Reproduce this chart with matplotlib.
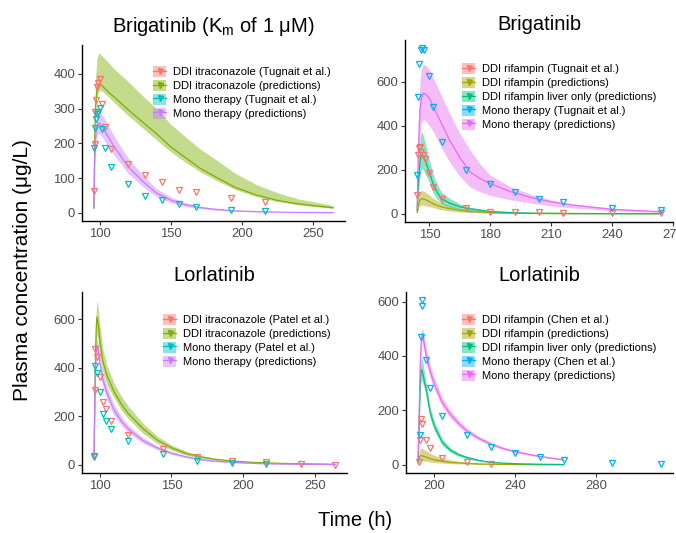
import matplotlib
matplotlib.use("Agg")
import matplotlib.pyplot as plt
from matplotlib.patches import Rectangle
from matplotlib.lines import Line2D
import numpy as np

plt.rcParams['font.family'] = ['Liberation Sans', 'DejaVu Sans']
plt.rcParams['mathtext.fontset'] = 'custom'
plt.rcParams['mathtext.rm'] = 'Liberation Sans'

# ---------------- colours (ggplot hue palettes) ----------------
C4 = ['#F8766D', '#7CAE00', '#00BFC4', '#C77CFF']
C5 = ['#F8766D', '#A3A500', '#00BF7D', '#00B0F6', '#E76BF3']

# ================= Panel 1: Brigatinib (Km 1 uM), itraconazole =================
p1_obs_ddi_t = [96, 96.5, 97, 97.5, 98, 99, 100, 102, 104, 108, 120, 132, 144, 156, 168, 192, 216]
p1_obs_ddi_c = [62, 198, 290, 326, 362, 375, 386, 313, 248, 183, 140, 109, 90, 65, 59, 43, 31]
p1_obs_mono_t = [96, 97, 97.5, 98, 99, 100, 102, 104, 108, 120, 132, 144, 156, 168, 192, 216]
p1_obs_mono_c = [186, 243, 269, 286, 290, 303, 241, 186, 133, 83, 50, 38, 25, 18, 9, 5]
p1_pred_t = [96, 96.5, 97, 98, 99, 100, 102, 105, 110, 120, 130, 140, 150, 160, 170, 180, 195, 210, 225, 240, 264]
p1_ddi_mean = [15, 200, 300, 350, 366, 371, 365, 352, 334, 297, 262, 228, 190, 160, 130, 107, 74, 52, 36, 26, 15]
p1_ddi_hi = [20, 260, 380, 440, 457, 460, 450, 438, 415, 378, 338, 300, 255, 220, 186, 158, 115, 82, 58, 40, 22]
p1_ddi_lo = [12, 170, 270, 330, 345, 352, 350, 338, 318, 280, 245, 210, 176, 147, 120, 98, 68, 47, 33, 23, 13]
p1_mono_mean = [14, 150, 215, 248, 258, 257, 245, 226, 192, 133, 92, 57, 37, 24, 16, 11, 6, 4, 2.5, 1.5, 1]
p1_mono_hi = [17, 180, 250, 285, 296, 294, 280, 260, 222, 158, 110, 70, 46, 30, 20, 14, 8, 5, 3, 2, 1.2]
p1_mono_lo = [11, 120, 185, 215, 228, 228, 217, 198, 168, 114, 77, 47, 30, 19, 13, 8.5, 5, 3, 2, 1.2, 0.8]
p1_labels = ['DDI itraconazole (Tugnait et al.)', 'DDI itraconazole (predictions)',
             'Mono therapy (Tugnait et al.)', 'Mono therapy (predictions)']

# ================= Panel 2: Brigatinib, rifampin =================
p2_obs_ddi_t = [144, 144.5, 145, 145.5, 146, 147, 148, 150, 152, 156, 168, 180, 192, 204, 216, 240, 264]
p2_obs_ddi_c = [83, 266, 301, 304, 281, 266, 251, 185, 121, 68, 27, 10, 7, 6, 5, 5, 4]
p2_obs_mono_t = [144, 144.5, 145, 145.8, 146.5, 147.5, 150, 152, 156, 168, 180, 192, 204, 216, 240, 264]
p2_obs_mono_c = [178, 529, 682, 745, 752, 745, 627, 486, 324, 200, 134, 99, 65, 53, 26, 18]
p2_ddi_t = [144, 144.5, 145, 145.5, 146, 146.5, 147, 148, 150, 152, 154, 156, 160, 165, 170, 180, 190, 200, 220, 240, 264]
p2_ddi_mean = [5, 35, 55, 64, 68, 68, 67, 64, 55, 45, 37, 31, 23, 15, 10, 5, 2.5, 1.2, 0.5, 0.2, 0.1]
p2_ddi_hi = [8, 60, 90, 102, 106, 105, 103, 98, 85, 70, 58, 50, 36, 24, 16, 8, 4, 2, 0.8, 0.3, 0.15]
p2_ddi_lo = [3, 20, 32, 37, 39, 39, 38, 36, 32, 28, 22, 18, 12, 8, 5, 2.5, 1.2, 0.6, 0.25, 0.1, 0.05]
p2_liver_mean = [15, 120, 200, 245, 265, 268, 262, 240, 190, 129, 95, 68, 48, 32, 22, 10, 5, 2.5, 1, 0.5, 0.3]
p2_liver_hi = [20, 180, 290, 350, 372, 368, 355, 320, 243, 175, 130, 98, 70, 45, 30, 14, 7, 3.5, 1.5, 0.7, 0.4]
p2_liver_lo = [10, 80, 140, 180, 200, 205, 200, 180, 144, 91, 65, 45, 30, 20, 14, 6, 3, 1.5, 0.6, 0.3, 0.2]
p2_mono_t = [144, 144.5, 145, 145.5, 146, 147, 148, 150, 152, 156, 160, 165, 170, 175, 180, 190, 200, 210, 220, 240, 264]
p2_mono_mean = [23, 250, 400, 480, 520, 547, 545, 525, 486, 410, 334, 255, 190, 160, 137, 100, 74, 54, 40, 20, 9]
p2_mono_hi = [30, 320, 520, 610, 655, 679, 675, 655, 615, 535, 456, 365, 290, 225, 175, 122, 88, 62, 45, 25, 12]
p2_mono_lo = [18, 180, 300, 370, 410, 428, 425, 400, 372, 300, 235, 170, 122, 100, 83, 63, 48, 36, 27, 14, 6]
p2_labels = ['DDI rifampin (Tugnait et al.)', 'DDI rifampin (predictions)',
             'DDI rifampin liver only (predictions)', 'Mono therapy (Tugnait et al.)',
             'Mono therapy (predictions)']

# ================= Panel 3: Lorlatinib, itraconazole =================
p3_obs_ddi_t = [96, 96.5, 97, 98, 100, 102, 104, 108, 120, 144, 168, 192, 216, 240, 264]
p3_obs_ddi_c = [33, 310, 479, 444, 361, 258, 228, 182, 123, 65, 30, 17, 10, 5, 1]
p3_obs_mono_t = [96, 97, 98, 100, 102, 104, 108, 120, 144, 168, 192, 216]
p3_obs_mono_c = [37, 405, 378, 299, 210, 182, 147, 99, 44, 17, 8, 4]
p3_pred_t = [96, 96.5, 97, 97.5, 98, 99, 100, 102, 105, 110, 115, 120, 130, 140, 150, 160, 170, 180, 195, 210, 225, 240, 264]
p3_ddi_mean = [35, 250, 450, 560, 609, 575, 513, 430, 368, 300, 250, 210, 150, 102, 70, 47, 33, 23, 14, 9, 6, 4, 2]
p3_ddi_hi = [40, 290, 520, 630, 678, 645, 580, 482, 408, 335, 283, 240, 172, 118, 82, 56, 39, 27, 16, 10, 7, 5, 2.5]
p3_ddi_lo = [30, 210, 390, 495, 541, 510, 460, 388, 330, 275, 225, 190, 130, 88, 60, 40, 28, 19, 12, 7.5, 5, 3.2, 1.6]
p3_mono_mean = [30, 250, 400, 470, 492, 470, 423, 355, 295, 225, 180, 147, 100, 70, 48, 33, 22, 15, 9, 5, 3, 2, 1]
p3_mono_hi = [33, 280, 440, 505, 520, 500, 455, 385, 322, 247, 198, 162, 112, 78, 54, 37, 25, 17, 10, 6, 3.5, 2.3, 1.2]
p3_mono_lo = [27, 220, 360, 430, 460, 440, 393, 325, 268, 203, 162, 132, 89, 62, 42, 29, 19, 13, 8, 4.4, 2.6, 1.7, 0.8]
p3_labels = ['DDI itraconazole (Patel et al.)', 'DDI itraconazole (predictions)',
             'Mono therapy (Patel et al.)', 'Mono therapy (predictions)']

# ================= Panel 4: Lorlatinib, rifampin =================
p4_obs_ddi_t = [192.5, 193, 193.5, 194, 196, 198, 204, 216, 228]
p4_obs_ddi_c = [11, 91, 168, 150, 91, 61, 25, 9, 3]
p4_obs_mono_t = [193, 193.5, 193.8, 194.1, 196, 198, 204, 216, 228, 240, 252, 264, 288, 312]
p4_obs_mono_c = [110, 468, 605, 584, 386, 284, 180, 110, 64, 43, 27, 18, 6, 3]
p4_pred_t = [192, 192.5, 193, 193.5, 194, 195, 196, 198, 200, 204, 208, 212, 216, 222, 228, 234, 240, 252, 264]
p4_ddi_mean = [5, 25, 32, 34, 33, 31, 28, 22, 18, 13, 9, 7, 5, 3, 2, 1.4, 1, 0.5, 0.3]
p4_ddi_hi = [8, 45, 58, 61, 60, 56, 52, 42, 35, 25, 18, 13, 10, 6.5, 4.5, 3, 2.2, 1.2, 0.7]
p4_ddi_lo = [3, 10, 13, 15, 15, 14, 13, 10, 8, 6, 4, 3, 2, 1.2, 0.8, 0.5, 0.4, 0.2, 0.1]
p4_liver_mean = [15, 150, 300, 350, 345, 310, 278, 190, 142, 82, 53, 37, 27, 16, 9, 6, 4, 2, 1]
p4_liver_hi = [17, 175, 345, 395, 390, 345, 300, 210, 160, 95, 62, 44, 32, 19, 11, 7, 5, 2.5, 1.2]
p4_liver_lo = [13, 130, 265, 310, 305, 280, 250, 170, 125, 70, 45, 31, 22, 13, 7.5, 5, 3, 1.5, 0.8]
p4_mono_mean = [20, 180, 360, 450, 482, 445, 400, 342, 298, 229, 185, 152, 125, 97, 76, 60, 48, 31, 18]
p4_mono_hi = [22, 200, 390, 480, 505, 475, 428, 367, 320, 247, 200, 164, 135, 105, 82, 65, 52, 34, 20]
p4_mono_lo = [18, 160, 330, 420, 455, 418, 375, 318, 277, 212, 171, 141, 116, 90, 70, 55, 44, 28, 16]
p4_labels = ['DDI rifampin (Chen et al.)', 'DDI rifampin (predictions)',
             'DDI rifampin liver only (predictions)', 'Mono therapy (Chen et al.)',
             'Mono therapy (predictions)']

# ---------------- figure ----------------
W, H = 676, 533
fig = plt.figure(figsize=(W / 100, H / 100), dpi=100)


def px_axes(l, t, r, b):
    return fig.add_axes([l / W, 1 - b / H, (r - l) / W, (b - t) / H])


def style(ax, xticks, yticks, xlim, ylim):
    for s in ['top', 'right']:
        ax.spines[s].set_visible(False)
    for s in ['left', 'bottom']:
        ax.spines[s].set_linewidth(1.0)
        ax.spines[s].set_color('black')
    ax.set_xticks(xticks)
    ax.set_yticks(yticks)
    ax.set_xlim(*xlim)
    ax.set_ylim(*ylim)
    ax.tick_params(labelsize=9.4, labelcolor='#4D4D4D', color='#333333', length=3, width=0.8, pad=2)
    ax.set_facecolor('white')


def expand(vals):
    lo, hi = min(vals), max(vals)
    d = (hi - lo) * 0.05
    return lo - d, hi + d


def draw_panel(ax, obs, preds, colors, labels, order):
    for (t, m, lo, hi, ci) in preds:
        ax.fill_between(t, lo, hi, color=colors[ci], alpha=0.45, linewidth=0)
    for (t, m, lo, hi, ci) in preds:
        ax.plot(t, m, color=colors[ci], lw=0.9)
    for (t, c, ci) in obs:
        ax.plot(t, c, linestyle='none', marker='v', markersize=4.2, markerfacecolor='none',
                markeredgecolor=colors[ci], markeredgewidth=0.9)
    handles = []
    for ci in order:
        patch = Rectangle((0, 0), 1, 1, facecolor=colors[ci], alpha=0.45, edgecolor='none')
        line = Line2D([], [], color=colors[ci], lw=0.9, marker='v', markersize=3.6,
                      markerfacecolor=colors[ci], markeredgecolor=colors[ci])
        handles.append((patch, line))
    return handles


def add_legend(ax, handles, labels, x, y):
    ax.legend(handles, labels, loc='upper left', bbox_to_anchor=(x / W, 1 - y / H),
              bbox_transform=fig.transFigure, frameon=False, borderaxespad=0, borderpad=0,
              handlelength=1.2, handleheight=1.2, handletextpad=0.6, labelspacing=0.22,
              prop={'size': 8})


# Panel 1
ax1 = px_axes(82, 45, 345, 221)
h = draw_panel(ax1,
               [(p1_obs_ddi_t, p1_obs_ddi_c, 0), (p1_obs_mono_t, p1_obs_mono_c, 2)],
               [(p1_pred_t, p1_ddi_mean, p1_ddi_lo, p1_ddi_hi, 1),
                (p1_pred_t, p1_mono_mean, p1_mono_lo, p1_mono_hi, 3)],
               C4, p1_labels, [0, 1, 2, 3])
style(ax1, [100, 150, 200, 250], [0, 100, 200, 300, 400],
      expand(p1_obs_ddi_t + p1_obs_mono_t + p1_pred_t),
      expand([0] + p1_ddi_hi + p1_obs_ddi_c + p1_obs_mono_c))
add_legend(ax1, h, p1_labels, 153, 66)
ax1.set_title('Brigatinib (K$_\\mathregular{m}$ of 1 μM)', fontsize=14.5, pad=9)

# Panel 2
ax2 = px_axes(405, 40, 673, 222)
h = draw_panel(ax2,
               [(p2_obs_ddi_t, p2_obs_ddi_c, 0), (p2_obs_mono_t, p2_obs_mono_c, 3)],
               [(p2_ddi_t, p2_ddi_mean, p2_ddi_lo, p2_ddi_hi, 1),
                (p2_ddi_t, p2_liver_mean, p2_liver_lo, p2_liver_hi, 2),
                (p2_mono_t, p2_mono_mean, p2_mono_lo, p2_mono_hi, 4)],
               C5, p2_labels, [0, 1, 2, 3, 4])
style(ax2, [150, 180, 210, 240, 270], [0, 200, 400, 600],
      (138, 270),
      expand([0] + p2_mono_hi + p2_obs_mono_c))
add_legend(ax2, h, p2_labels, 462, 63)
ax2.set_title('Brigatinib', fontsize=14.5, pad=7)

# Panel 3
ax3 = px_axes(82, 292, 347, 473)
h = draw_panel(ax3,
               [(p3_obs_ddi_t, p3_obs_ddi_c, 0), (p3_obs_mono_t, p3_obs_mono_c, 2)],
               [(p3_pred_t, p3_ddi_mean, p3_ddi_lo, p3_ddi_hi, 1),
                (p3_pred_t, p3_mono_mean, p3_mono_lo, p3_mono_hi, 3)],
               C4, p3_labels, [0, 1, 2, 3])
style(ax3, [100, 150, 200, 250], [0, 200, 400, 600],
      expand(p3_obs_ddi_t + p3_pred_t),
      expand([0] + p3_ddi_hi + p3_obs_ddi_c))
add_legend(ax3, h, p3_labels, 163, 314)
ax3.set_title('Lorlatinib', fontsize=14.5, pad=8)

# Panel 4
ax4 = px_axes(406, 292, 673, 473)
h = draw_panel(ax4,
               [(p4_obs_ddi_t, p4_obs_ddi_c, 0), (p4_obs_mono_t, p4_obs_mono_c, 3)],
               [(p4_pred_t, p4_ddi_mean, p4_ddi_lo, p4_ddi_hi, 1),
                (p4_pred_t, p4_liver_mean, p4_liver_lo, p4_liver_hi, 2),
                (p4_pred_t, p4_mono_mean, p4_mono_lo, p4_mono_hi, 4)],
               C5, p4_labels, [0, 1, 2, 3, 4])
style(ax4, [200, 240, 280], [0, 200, 400, 600],
      expand(p4_pred_t + p4_obs_mono_t),
      expand([0] + p4_obs_mono_c + p4_mono_hi))
add_legend(ax4, h, p4_labels, 462, 314)
ax4.set_title('Lorlatinib', fontsize=14.5, pad=8)

fig.text(23 / W, 1 - 270 / H, 'Plasma concentration (μg/L)', rotation=90,
         ha='center', va='center', fontsize=15)
fig.text(355 / W, 1 - 521 / H, 'Time (h)', ha='center', va='center', fontsize=14.5)

fig.savefig('out.png', dpi=100, facecolor='white')
